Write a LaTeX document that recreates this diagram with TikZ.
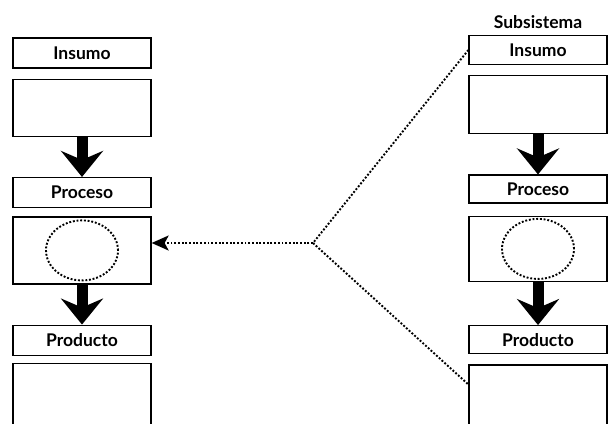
\documentclass[tikz,border=0pt]{standalone}
\usepackage{fontspec}
\setmainfont{Lato}
\usetikzlibrary{positioning,arrows.meta,shapes.geometric}

\begin{document}
\begin{tikzpicture}[x=1pt,y=-1pt,
  lblbox/.style={draw,line width=1.3pt,minimum width=138pt,minimum height=30pt,
    inner sep=0pt,font=\fontsize{17.5}{19}\selectfont\bfseries},
  cbox/.style={draw,line width=1.3pt,minimum width=138pt,inner sep=0pt},
  bigarrow/.style={line width=11pt,-{Stealth[length=26pt,width=42pt,inset=9pt]}},
  dotline/.style={line width=1.9pt,dash pattern=on 1.9pt off 1.8pt},
  dotcircle/.style={draw,ellipse,dotline,minimum width=72pt,minimum height=60pt}]

  \clip (0,0) rectangle (609,423);

  % left column
  \node[lblbox] (insumoL) at (82,53) {Insumo};
  \node[cbox,minimum height=57pt,below=10pt of insumoL] (insumoboxL) {};
  \node[lblbox,below=40pt of insumoboxL] (procesoL) {Proceso};
  \node[cbox,minimum height=67pt,below=8pt of procesoL] (procesoboxL) {};
  \node[dotcircle] (circleL) at (procesoboxL) {};
  \node[lblbox,below=40pt of procesoboxL] (productoL) {Producto};
  \node[cbox,minimum height=80pt,below=7pt of productoL] (productoboxL) {};

  % right column
  \node[lblbox,minimum height=29pt] (insumoR) at (538,50) {Insumo};
  \node[font=\fontsize{17.5}{19}\selectfont\bfseries,inner sep=1pt,above=5pt of insumoR] (subsis) {Subsistema};
  \node[cbox,minimum height=58pt,below=10pt of insumoR] (insumoboxR) {};
  \node[lblbox,minimum height=28pt,below=40pt of insumoboxR] (procesoR) {Proceso};
  \node[cbox,minimum height=65pt,below=12pt of procesoR] (procesoboxR) {};
  \node[dotcircle] (circleR) at (procesoboxR) {};
  \node[lblbox,minimum height=28pt,below=43pt of procesoboxR] (productoR) {Producto};
  \node[cbox,minimum height=61pt,below=10pt of productoR] (productoboxR) {};

  \draw[bigarrow] (insumoboxL) -- (procesoL.north);
  \draw[bigarrow] (procesoboxL) -- (productoL.north);
  \draw[bigarrow] (insumoboxR) -- (procesoR.north);
  \draw[bigarrow] (procesoboxR) -- (productoR.north);

  % dotted links to the subsystem
  \coordinate (hub) at (313,243);
  \draw[dotline] (insumoR.west) -- (hub) -- (productoboxR.171);
  \draw[dotline,-{Stealth[length=17pt,width=15pt,inset=4pt]}] (hub) -- (hub -| procesoboxL.east);
\end{tikzpicture}
\end{document}
